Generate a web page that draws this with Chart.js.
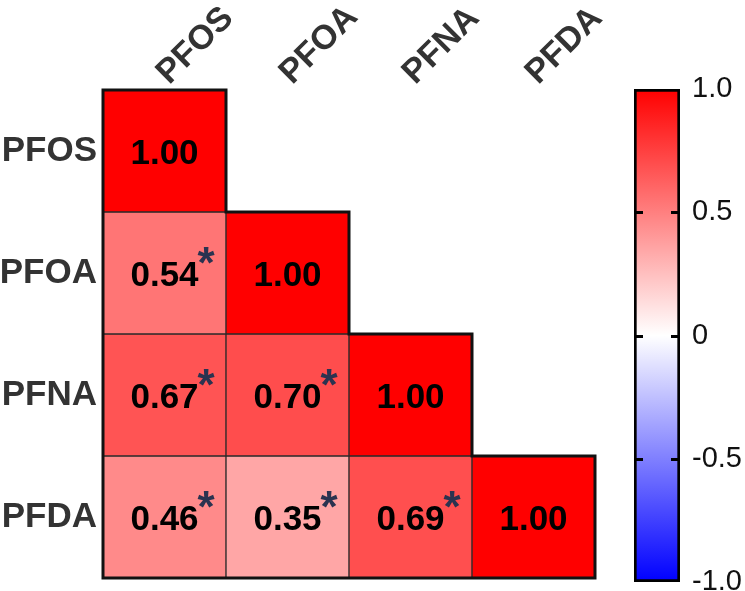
<!DOCTYPE html>
<html><head><meta charset="utf-8">
<script src="https://cdn.jsdelivr.net/npm/chart.js@4.4.1/dist/chart.umd.min.js"></script>
<style>
html,body{margin:0;padding:0;background:#fff;width:745px;height:591px;overflow:hidden}
#main{position:absolute;left:0;top:0}
#cbar{position:absolute;left:600px;top:0}
</style></head><body>
<canvas id="main" width="745" height="591"></canvas>
<canvas id="cbar" width="145" height="591"></canvas>
<script>
// ---- data ----
const rows = ['PFOS', 'PFOA', 'PFNA', 'PFDA'];
const cols = ['PFOS', 'PFOA', 'PFNA', 'PFDA'];
const rowPFOS = [1.00];
const rowPFOA = [0.54, 1.00];
const rowPFNA = [0.67, 0.70, 1.00];
const rowPFDA = [0.46, 0.35, 0.69, 1.00];
const sigPFOS = [false];
const sigPFOA = [true, false];
const sigPFNA = [true, true, false];
const sigPFDA = [true, true, true, false];
const barTicks = [-1, -0.5, 0, 0.5, 1];
const barTickLabels = ['-1.0', '-0.5', '0', '0.5', '1.0'];

const FONT = '"Liberation Sans", Arial, sans-serif';
const values = [rowPFOS, rowPFOA, rowPFNA, rowPFDA];
const sigs = [sigPFOS, sigPFOA, sigPFNA, sigPFDA];

function colorFor(v) {
  const t = Math.max(-1, Math.min(1, v));
  if (t >= 0) { const c = Math.round(255 * (1 - t)); return `rgb(255,${c},${c})`; }
  const c = Math.round(255 * (1 + t)); return `rgb(${c},${c},255)`;
}

const datasets = values.map((vals, i) => ({
  label: rows[i],
  data: vals.map((v, j) => ({ x: cols[j], y: [i, i + 1], v: v, s: sigs[i][j] })),
  backgroundColor: vals.map(v => colorFor(v)),
  borderColor: '#2a2a2a',
  borderWidth: 1,
  borderSkipped: false,
  grouped: false,
  barPercentage: 1,
  categoryPercentage: 1
}));

const cellLabels = {
  id: 'cellLabels',
  afterDatasetsDraw(chart) {
    const ctx = chart.ctx;
    const xs = chart.scales.x, ys = chart.scales.y;
    ctx.save();
    // outer staircase outline
    const n = rows.length;
    const xb = k => xs.getPixelForValue(k - 0.5);
    const yb = k => ys.getPixelForValue(k);
    ctx.beginPath();
    ctx.moveTo(xb(0), yb(0));
    for (let k = 0; k < n; k++) {
      ctx.lineTo(xb(k + 1), yb(k));
      ctx.lineTo(xb(k + 1), yb(k + 1));
    }
    ctx.lineTo(xb(0), yb(n));
    ctx.closePath();
    ctx.lineWidth = 3;
    ctx.strokeStyle = '#111';
    ctx.lineJoin = 'miter';
    ctx.stroke();
    // values
    chart.data.datasets.forEach((ds, i) => {
      const meta = chart.getDatasetMeta(i);
      meta.data.forEach((el, j) => {
        const d = ds.data[j];
        const p = el.getCenterPoint();
        const txt = d.v.toFixed(2);
        ctx.font = 'bold 35px ' + FONT;
        ctx.fillStyle = '#000';
        ctx.textAlign = 'center';
        ctx.textBaseline = 'alphabetic';
        ctx.fillText(txt, p.x, p.y + 13);
        if (d.s) {
          const w = ctx.measureText(txt).width;
          ctx.font = 'bold 44px ' + FONT;
          ctx.fillStyle = '#2b3350';
          ctx.textAlign = 'left';
          ctx.fillText('*', p.x + w / 2 - 1, p.y + 5);
        }
      });
    });
    ctx.restore();
  }
};

new Chart(document.getElementById('main'), {
  type: 'bar',
  data: { labels: cols, datasets: datasets },
  options: {
    responsive: false,
    animation: false,
    plugins: { legend: { display: false }, tooltip: { enabled: false } },
    layout: { padding: { left: 0, top: 0, right: 150, bottom: 13 } },
    scales: {
      x: {
        type: 'category',
        position: 'top',
        offset: true,
        grid: { display: false, drawTicks: false },
        border: { display: false },
        ticks: {
          minRotation: 45, maxRotation: 45,
          padding: -3, labelOffset: 27,
          color: '#333',
          font: { family: FONT, size: 34, weight: 'bold' }
        },
        afterFit(s) { s.height = 90; s.paddingLeft = 0; s.paddingRight = 0; }
      },
      y: {
        type: 'linear',
        min: 0, max: 4,
        reverse: true,
        grid: { display: false, drawTicks: false },
        border: { display: false },
        afterBuildTicks(s) { s.ticks = [0.5, 1.5, 2.5, 3.5].map(v => ({ value: v })); },
        ticks: {
          padding: 6,
          color: '#333',
          font: { family: FONT, size: 35, weight: 'bold' },
          callback: (v) => rows[Math.floor(v)]
        },
        afterFit(s) { s.width = 103; s.paddingTop = 0; s.paddingBottom = 0; }
      }
    }
  },
  plugins: [cellLabels]
});

const barStubs = {
  id: 'barStubs',
  afterDatasetsDraw(chart) {
    const ctx = chart.ctx, ys = chart.scales.y, a = chart.chartArea;
    const el = chart.getDatasetMeta(0).data[0];
    const l = Math.max(el.x - el.width / 2, a.left);
    const r = Math.min(el.x + el.width / 2, a.right);
    ctx.save();
    ctx.strokeStyle = '#000';
    ctx.lineWidth = 3;
    [0.5, 0, -0.5].forEach(v => {
      const y = Math.round(ys.getPixelForValue(v)) + 0.5;
      ctx.beginPath();
      ctx.moveTo(l, y); ctx.lineTo(l + 9, y);
      ctx.moveTo(r - 9, y); ctx.lineTo(r, y);
      ctx.stroke();
    });
    ctx.restore();
  }
};

new Chart(document.getElementById('cbar'), {
  type: 'bar',
  data: {
    labels: [''],
    datasets: [{
      data: [[-1, 1]],
      backgroundColor: (c) => {
        const a = c.chart.chartArea;
        if (!a) return '#fff';
        const g = c.chart.ctx.createLinearGradient(0, a.bottom, 0, a.top);
        g.addColorStop(0, colorFor(-1));
        g.addColorStop(0.5, colorFor(0));
        g.addColorStop(1, colorFor(1));
        return g;
      },
      borderColor: '#000',
      borderWidth: 3,
      borderSkipped: false,
      barPercentage: 1,
      categoryPercentage: 1
    }]
  },
  options: {
    responsive: false,
    animation: false,
    plugins: { legend: { display: false }, tooltip: { enabled: false } },
    layout: { padding: { left: 34, top: 89, bottom: 9, right: 0 } },
    scales: {
      x: { display: false },
      y: {
        position: 'right',
        min: -1, max: 1,
        grid: { display: false, drawTicks: false },
        border: { display: false },
        afterBuildTicks(s) { s.ticks = barTicks.map(v => ({ value: v })); },
        ticks: {
          padding: 12,
          color: '#111',
          font: { family: FONT, size: 29 },
          callback: (v) => barTickLabels[barTicks.indexOf(v)]
        },
        afterFit(s) { s.width = 65; s.paddingTop = 0; s.paddingBottom = 0; }
      }
    }
  },
  plugins: [barStubs]
});
</script>
</body></html>
